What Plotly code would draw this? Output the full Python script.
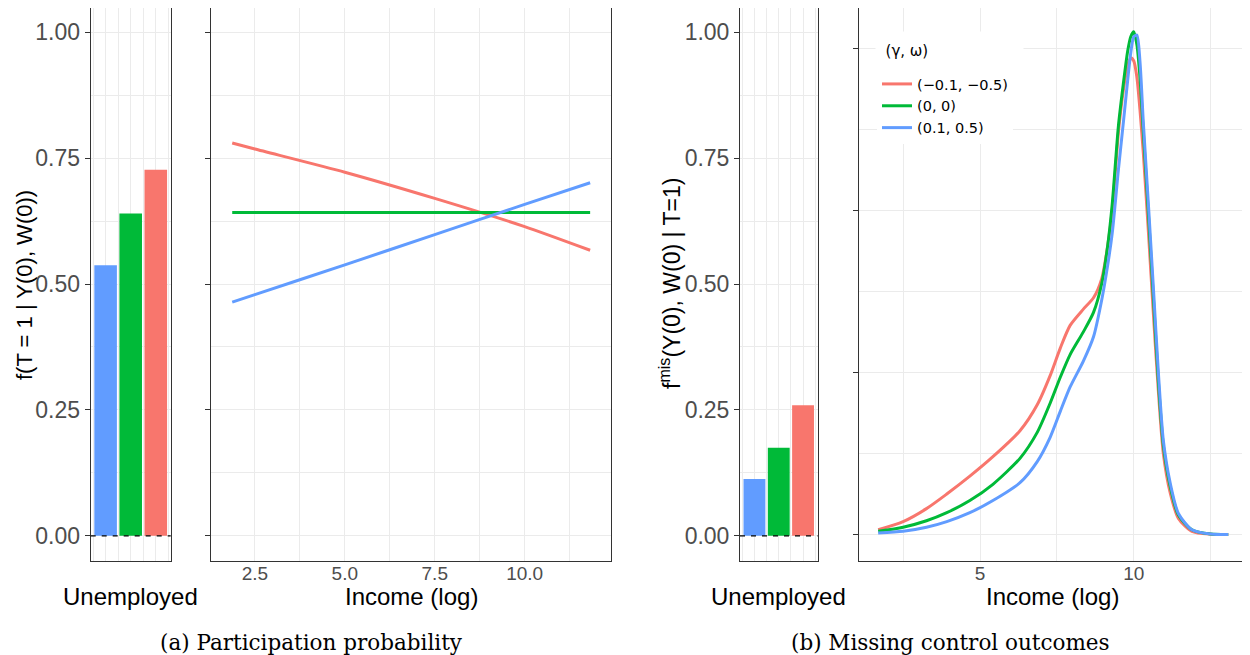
import plotly.graph_objects as go

W, H = 1250, 655
OFF = 8  # the page body adds an 8px margin; compensate for it

# ---------------- data ----------------
scenarios = ["(−0.1, −0.5)", "(0, 0)", "(0.1, 0.5)"]
legend_title = "(γ, ω)"
colors = ["#F8766D", "#00BA38", "#619CFF"]

# Panel (a): participation probability
unemp_participation = [0.727, 0.640, 0.537]          # red, green, blue
income_grid_a = [1.87, 2.5, 5.0, 7.5, 10.0, 11.82]
part_red = [0.780, 0.768, 0.722, 0.670, 0.614, 0.567]
part_green = [0.642, 0.642, 0.642, 0.642, 0.642, 0.642]
part_blue = [0.464, 0.479, 0.538, 0.598, 0.658, 0.701]

# Panel (b): missing control outcomes
unemp_missing = [0.259, 0.175, 0.113]                 # red, green, blue
income_grid_b = [1.69, 2.5, 3.26, 3.92, 4.67, 5.42, 6.30, 6.86, 7.28, 7.61,
                 7.93, 8.36, 8.69, 8.96, 9.15, 9.3, 9.5, 9.66, 9.8, 9.9,
                 10.0, 10.1, 10.2, 10.31, 10.48, 10.64, 10.80, 10.96, 11.18,
                 11.45, 11.89, 12.5, 13.07]
dens_red = [0.003, 0.008, 0.016, 0.025, 0.036, 0.048, 0.064, 0.080,
            0.098, 0.115, 0.129, 0.139, 0.146, 0.158, 0.178, 0.200, 0.248,
            0.274, 0.289, 0.294, 0.292, 0.282, 0.262, 0.235, 0.185, 0.135,
            0.088, 0.050, 0.026, 0.010, 0.002, 0.0002, 0.0]
dens_green = [0.002, 0.0045, 0.0085, 0.0135, 0.021, 0.031, 0.047, 0.063,
              0.081, 0.097, 0.111, 0.125, 0.137, 0.155, 0.178, 0.204, 0.252,
              0.278, 0.298, 0.307, 0.310, 0.302, 0.282, 0.248, 0.196, 0.145,
              0.094, 0.055, 0.030, 0.012, 0.003, 0.0003, 0.0]
dens_blue = [0.001, 0.002, 0.0045, 0.008, 0.0135, 0.021, 0.032, 0.045,
             0.060, 0.076, 0.091, 0.107, 0.122, 0.145, 0.166, 0.186, 0.225,
             0.254, 0.280, 0.297, 0.307, 0.308, 0.292, 0.254, 0.202, 0.151,
             0.0996, 0.058, 0.032, 0.013, 0.003, 0.0003, 0.0]

y_ticks_prob = [0, 0.25, 0.5, 0.75, 1.0]
y_ticklabels_prob = ["0.00", "0.25", "0.50", "0.75", "1.00"]
x_ticks_a = [2.5, 5.0, 7.5, 10.0]
x_ticklabels_a = ["2.5", "5.0", "7.5", "10.0"]
x_ticks_b = [5, 10]
x_ticklabels_b = ["5", "10"]
y_ticks_dens = [0, 0.1, 0.2, 0.3]

# ---------------- helpers ----------------
def fx(p):
    return min(1.0, max(0.0, (p - OFF) / W))


def fy(p):
    return min(1.0, max(0.0, 1 - (p - OFF) / H))


FONT = "Liberation Sans, Arial, sans-serif"
LFONT = "DejaVu Sans, sans-serif"
GRID = "#EBEBEB"
AXC = "#333333"
TXT = "#4D4D4D"

fig = go.Figure()

# bars (ggplot draws blue, green, red from left to right)
bar_pos = [3, 2, 1]
for i in range(3):
    fig.add_trace(go.Bar(x=[bar_pos[i]], y=[unemp_participation[i]], width=0.9,
                         marker=dict(color=colors[i], line=dict(width=0)),
                         showlegend=False, xaxis="x", yaxis="y", hoverinfo="skip"))
    fig.add_trace(go.Bar(x=[bar_pos[i]], y=[unemp_missing[i]], width=0.9,
                         marker=dict(color=colors[i], line=dict(width=0)),
                         showlegend=False, xaxis="x3", yaxis="y3", hoverinfo="skip"))

for ys, c in zip([part_red, part_green, part_blue], colors):
    fig.add_trace(go.Scatter(x=income_grid_a, y=ys, mode="lines",
                             line=dict(color=c, width=3, shape="spline", smoothing=0.6),
                             showlegend=False, xaxis="x2", yaxis="y2"))

for ys, c, name in zip([dens_red, dens_green, dens_blue], colors, scenarios):
    fig.add_trace(go.Scatter(x=income_grid_b, y=ys, mode="lines", name=name,
                             line=dict(color=c, width=3, shape="spline", smoothing=0.7),
                             showlegend=True, xaxis="x4", yaxis="y4"))

ydom = [fy(561), fy(8)]


def xaxis(dom, rng, tickvals=None, ticktext=None, minor0=None, minordt=None, labels=True):
    d = dict(domain=dom, range=rng, showline=True, mirror=True, linecolor=AXC, linewidth=1,
             ticks="", showgrid=True, gridcolor=GRID, gridwidth=1, zeroline=False,
             tickfont=dict(family=FONT, size=19, color=TXT), ticklabelstandoff=-5,
             showticklabels=labels, fixedrange=True)
    if tickvals is not None:
        d["tickmode"] = "array"
        d["tickvals"] = tickvals
        if ticktext is not None:
            d["ticktext"] = ticktext
    if minor0 is not None:
        d["minor"] = dict(tick0=minor0, dtick=minordt, showgrid=True, gridcolor=GRID,
                          gridwidth=1, ticks="")
    return d


def yaxis(rng, tickvals, ticktext=None, minor0=None, minordt=None, labels=True, anchor=None):
    d = dict(domain=ydom, range=rng, showline=True, mirror=True, linecolor=AXC, linewidth=1,
             ticks="outside", ticklen=5, tickcolor=AXC, tickwidth=1,
             showgrid=True, gridcolor=GRID, gridwidth=1, zeroline=False,
             tickmode="array", tickvals=tickvals,
             tickfont=dict(family=FONT, size=23, color=TXT),
             showticklabels=labels, fixedrange=True, anchor=anchor)
    if ticktext is not None:
        d["ticktext"] = ticktext
    if minor0 is not None:
        d["minor"] = dict(tick0=minor0, dtick=minordt, showgrid=True, gridcolor=GRID,
                          gridwidth=1, ticks="")
    return d


fig.update_layout(
    width=W, height=H,
    margin=dict(l=0, r=0, t=0, b=0),
    paper_bgcolor="white", plot_bgcolor="white",
    font=dict(family=FONT, color="black"),
    barmode="overlay",
    xaxis=xaxis([fx(90.7), fx(170.7)], [0.405, 3.595], [1, 2, 3], None, 0.5, 1, labels=False),
    yaxis=yaxis([-0.05, 1.048], y_ticks_prob, y_ticklabels_prob, 0.125, 0.25, anchor="x"),
    xaxis2=xaxis([fx(211), fx(611)], [1.28, 12.40], x_ticks_a, x_ticklabels_a, 1.25, 2.5),
    yaxis2=yaxis([-0.05, 1.048], y_ticks_prob, None, 0.125, 0.25, labels=False, anchor="x2"),
    xaxis3=xaxis([fx(740), fx(817.5)], [0.405, 3.595], [1, 2, 3], None, 0.5, 1, labels=False),
    yaxis3=yaxis([-0.05, 1.048], y_ticks_prob, y_ticklabels_prob, 0.125, 0.25, anchor="x3"),
    xaxis4=xaxis([fx(858.5), fx(1247)], [1.05, 13.68], x_ticks_b, x_ticklabels_b, 2.5, 5),
    yaxis4=yaxis([-0.0163, 0.3247], y_ticks_dens, None, 0.05, 0.1, labels=False, anchor="x4"),
    legend=dict(x=fx(877), y=fy(68), xanchor="left", yanchor="top",
                bgcolor="white", borderwidth=0,
                font=dict(family=LFONT, size=14.5, color="black"),
                tracegroupgap=0, itemwidth=30),
)
fig.update_layout(xaxis=dict(anchor="y"), xaxis2=dict(anchor="y2"),
                  xaxis3=dict(anchor="y3"), xaxis4=dict(anchor="y4"))

# dashed zero reference lines in the bar panels
for xr, yr in [("x domain", "y"), ("x3 domain", "y3")]:
    fig.add_shape(type="line", xref=xr, yref=yr, x0=0, x1=1, y0=0, y1=0,
                  line=dict(color="black", width=1.3, dash="5px,6px"), layer="above")

ann = []


def add_text(text, x, y, size, angle=0, family=FONT, color="black"):
    ann.append(dict(text=text, x=fx(x), y=fy(y), xref="paper", yref="paper",
                    showarrow=False, textangle=angle, xanchor="center", yanchor="middle",
                    font=dict(family=family, size=size, color=color)))


# legend title, on a white box that continues the legend background upwards
ann.append(dict(text="&nbsp;&nbsp;" + legend_title, x=fx(875), y=fy(31), xref="paper", yref="paper",
                showarrow=False, xanchor="left", yanchor="top", align="left", valign="middle",
                width=147, height=38, bgcolor="white", borderpad=0,
                font=dict(family=LFONT, size=15, color="black")))
add_text("f(T = 1 | Y(0), W(0))", 24, 285, 22, angle=-90)
add_text("f<sup>mis</sup>(Y(0), W(0) | T=1)", 670, 284, 23, angle=-90)
add_text("Unemployed", 130.7, 596, 24)
add_text("Unemployed", 778.7, 596, 24)
add_text("Income (log)", 411, 596, 24)
add_text("Income (log)", 1052.7, 596, 24)
add_text("(a) Participation probability", 311, 642, 21.5, family="DejaVu Serif, serif")
add_text("(b) Missing control outcomes", 950, 642, 21.5, family="DejaVu Serif, serif")
fig.update_layout(annotations=ann)

fig.write_html("out.html")
